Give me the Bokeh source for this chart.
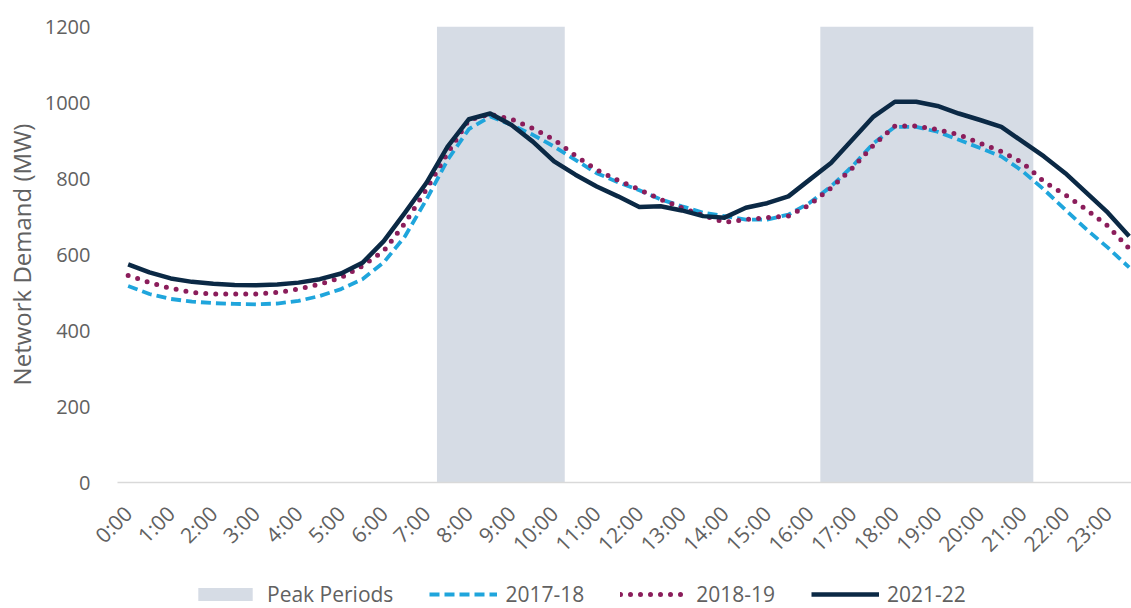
from bokeh.plotting import figure
from bokeh.layouts import column
from bokeh.models import Range1d, FixedTicker, Legend, LegendItem, ColumnDataSource
from bokeh.embed import file_html
from bokeh.resources import INLINE

# Half-hourly categories
times = [f"{h}:{m}" for h in range(24) for m in ("00", "30")]
tick_labels = [f"{h}:00" for h in range(24)]

series_2017_18 = [517, 496, 483, 476, 472, 470, 469, 471, 478, 491, 509, 535,
                  579, 648, 744, 849, 930, 963, 941, 915, 884, 849, 814, 790,
                  769, 745, 727, 710, 701, 692, 692, 705, 736, 779, 832, 893,
                  936, 936, 923, 902, 880, 858, 819, 771, 718, 666, 618, 566]
series_2018_19 = [545, 526, 511, 500, 496, 496, 496, 500, 509, 522, 539, 570,
                  609, 683, 771, 867, 954, 969, 956, 932, 902, 860, 823, 795,
                  771, 745, 723, 703, 685, 692, 697, 701, 731, 775, 827, 888,
                  938, 938, 929, 915, 893, 871, 841, 792, 757, 718, 675, 616]
series_2021_22 = [574, 553, 537, 528, 523, 520, 519, 521, 526, 535, 550, 578,
                  635, 710, 788, 884, 956, 971, 941, 897, 845, 810, 779, 753,
                  725, 727, 716, 701, 697, 723, 735, 753, 797, 841, 902, 963,
                  1002, 1002, 991, 971, 954, 936, 897, 858, 814, 762, 710, 648]

peak_start = ["7:30", "16:30"]
peak_end = ["10:00", "21:00"]
peak_level = 1200

y_ticks = [0, 200, 400, 600, 800, 1000, 1200]
series_names = ["Peak Periods", "2017-18", "2018-19", "2021-22"]

FONT = "Open Sans"
GREY = "#616161"
PEAK = dict(fill_color="#d6dce5", line_alpha=0)
S17 = dict(line_color="#1fa5dc", line_width=3.8, line_dash="10 5")
S18 = dict(line_color="#8b1d5b", line_width=5, line_dash="0 10", line_cap="round")
S21 = dict(line_color="#0b2945", line_width=4.5, line_join="round")

x_idx = list(range(len(times)))

p = figure(width=1131, height=570, output_backend="svg", toolbar_location=None,
           x_range=Range1d(-0.5, 47.11), y_range=Range1d(0, 1200),
           min_border_left=117, min_border_right=0, min_border_top=26,
           min_border_bottom=86)

peak_src = ColumnDataSource(dict(
    left=[times.index(s) - 0.5 for s in peak_start],
    right=[times.index(e) + 0.5 for e in peak_end],
    top=[peak_level] * len(peak_start),
    bottom=[0] * len(peak_start),
))
p.quad(left="left", right="right", top="top", bottom="bottom",
       source=peak_src, **PEAK)
p.line(x_idx, series_2017_18, **S17)
p.line(x_idx, series_2018_19, **S18)
p.line(x_idx, series_2021_22, **S21)

p.xgrid.visible = False
p.ygrid.visible = False
p.outline_line_color = None
p.background_fill_color = "white"
p.border_fill_color = "white"

xa = p.xaxis[0]
xa.ticker = FixedTicker(ticks=[times.index(t) for t in tick_labels])
xa.major_label_overrides = {times.index(t): t for t in tick_labels}
xa.major_label_orientation = 0.785398
xa.major_label_text_font = FONT
xa.major_label_text_font_size = "21px"
xa.major_label_text_color = GREY
xa.major_label_standoff = 21
xa.major_tick_line_color = None
xa.minor_tick_line_color = None
xa.axis_line_color = "#d9d9d9"
xa.axis_line_width = 1.5

ya = p.yaxis[0]
ya.ticker = FixedTicker(ticks=y_ticks)
ya.major_label_text_font = FONT
ya.major_label_text_font_size = "20px"
ya.major_label_text_color = GREY
ya.major_label_standoff = 21
ya.major_tick_line_color = None
ya.minor_tick_line_color = None
ya.axis_line_color = None
ya.axis_label = "Network Demand (MW)"
ya.axis_label_text_font = FONT
ya.axis_label_text_font_size = "24px"
ya.axis_label_text_font_style = "normal"
ya.axis_label_text_color = GREY
ya.axis_label_standoff = 4

# Legend strip below the chart (its renderers sit outside its 0..1 ranges)
lg = figure(width=1131, height=38, output_backend="svg", toolbar_location=None,
            x_range=Range1d(0, 1), y_range=Range1d(0, 1),
            x_axis_type=None, y_axis_type=None,
            min_border_left=0, min_border_right=0, min_border_top=0,
            min_border_bottom=0)
lg.xgrid.visible = False
lg.ygrid.visible = False
lg.outline_line_color = None
lg.border_fill_color = "white"
lr_peak = lg.quad(left="left", right="right", top="top", bottom="bottom",
                  source=peak_src, **PEAK)
lr17 = lg.line(x_idx, series_2017_18, **S17)
lr18 = lg.line(x_idx, series_2018_19, **S18)
lr21 = lg.line(x_idx, series_2021_22, **S21)

legend = Legend(items=[
    LegendItem(label=series_names[0], renderers=[lr_peak]),
    LegendItem(label=series_names[1], renderers=[lr17]),
    LegendItem(label=series_names[2], renderers=[lr18]),
    LegendItem(label=series_names[3], renderers=[lr21]),
], orientation="horizontal", location=(74, 0),
    label_text_font=FONT, label_text_font_size="21px", label_text_color=GREY,
    glyph_width=68, glyph_height=16, label_standoff=8, spacing=36,
    padding=0, margin=0, border_line_alpha=0, background_fill_alpha=0)
lg.add_layout(legend, "center")

layout = column(p, lg, spacing=0)
open("out.html", "w").write(file_html(layout, INLINE))
